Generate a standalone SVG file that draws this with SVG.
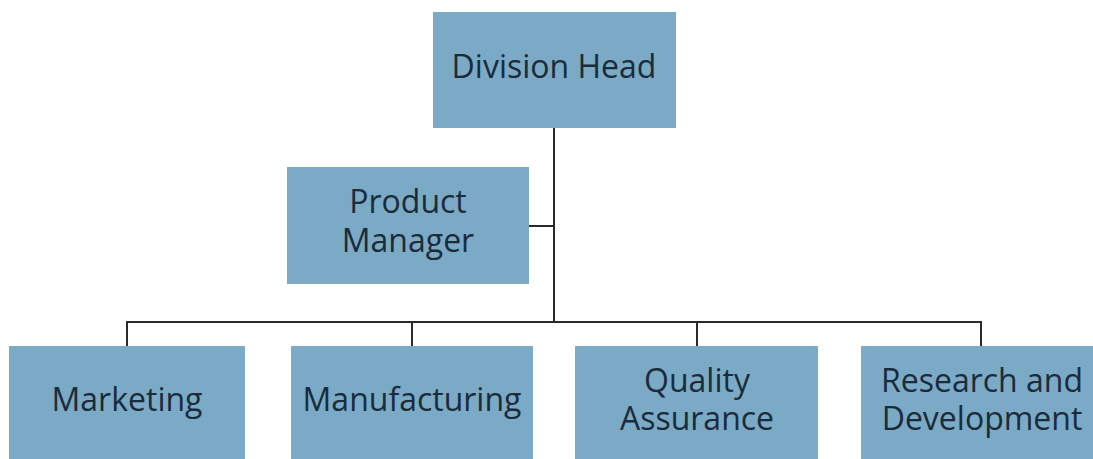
<svg xmlns="http://www.w3.org/2000/svg" width="1093" height="459" viewBox="0 0 1093 459">
<style>
.box{fill:#7aaac5;}
.t{font-family:"Open Sans","Noto Sans",sans-serif;font-size:32px;fill:#1c2b3a;text-anchor:middle;}
.c{stroke:#2a2a2a;stroke-width:2;fill:none;}
</style>
<rect width="1093" height="459" fill="#ffffff"/>
<g id="connectors">
<path class="c" d="M554 128 V322"/>
<path class="c" d="M529 226 H554"/>
<path class="c" d="M127 346 V322 H981 V346"/>
<path class="c" d="M412 322 V346"/>
<path class="c" d="M697 322 V346"/>
</g>
<g id="division-head">
<rect class="box" x="433" y="12" width="243" height="116"/>
<text class="t" x="554" y="78">Division Head</text>
</g>
<g id="product-manager">
<rect class="box" x="287" y="167" width="242" height="117"/>
<text class="t" x="408" y="213">Product</text>
<text class="t" x="408" y="252">Manager</text>
</g>
<g id="marketing">
<rect class="box" x="9" y="346" width="236" height="113"/>
<text class="t" x="127" y="411">Marketing</text>
</g>
<g id="manufacturing">
<rect class="box" x="291" y="346" width="242" height="113"/>
<text class="t" x="412" y="411">Manufacturing</text>
</g>
<g id="quality-assurance">
<rect class="box" x="575" y="346" width="243" height="113"/>
<text class="t" x="697" y="392">Quality</text>
<text class="t" x="697" y="430">Assurance</text>
</g>
<g id="research-development">
<rect class="box" x="861" y="346" width="240" height="113"/>
<text class="t" x="982" y="392">Research and</text>
<text class="t" x="982" y="430">Development</text>
</g>
</svg>
